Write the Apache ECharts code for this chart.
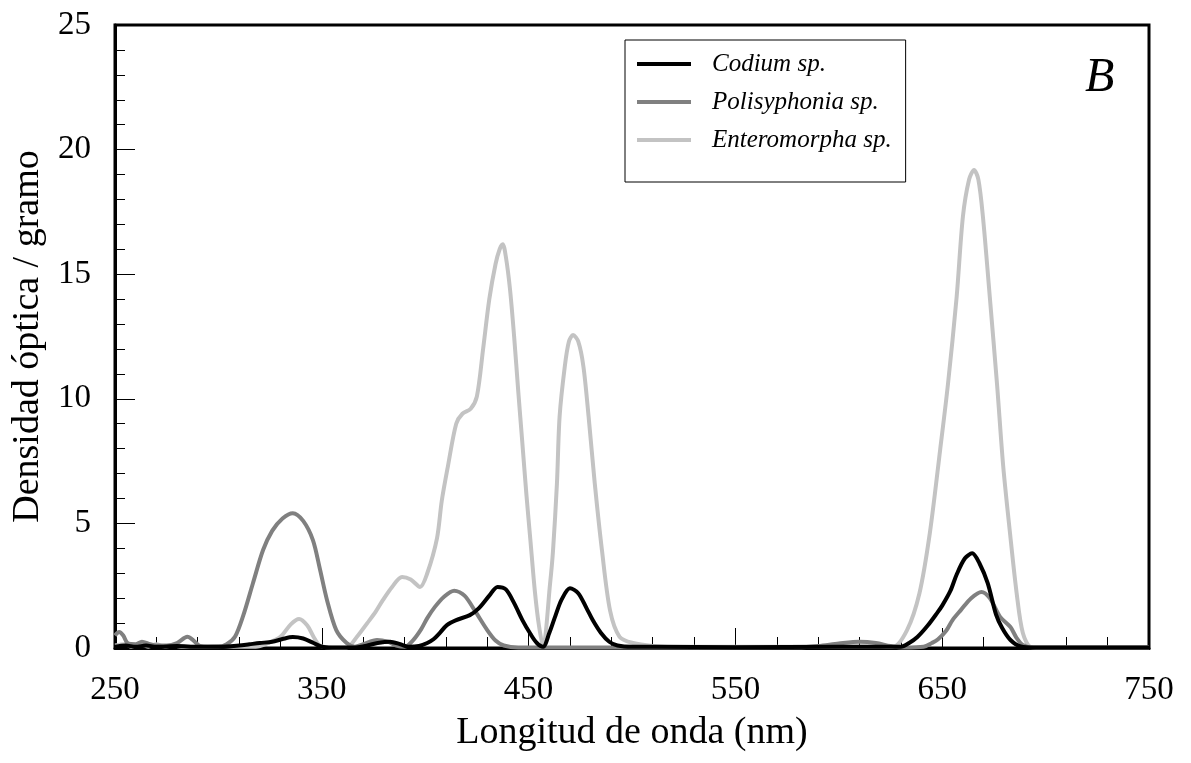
<!DOCTYPE html>
<html>
<head>
<meta charset="utf-8">
<script src="https://cdn.jsdelivr.net/npm/echarts@6/dist/echarts.min.js"></script>
<style>
  html, body { margin: 0; padding: 0; background: #fff; }
  #chart { width: 1191px; height: 763px; }
</style>
</head>
<body>
<div id="chart"></div>
<script>
// Absorption spectra (optical density per gram) of three algae extracts.
const seriesNames = ['Codium sp.', 'Polisyphonia sp.', 'Enteromorpha sp.'];
const xTickLabels = [250, 350, 450, 550, 650, 750];
const yTickLabels = [0, 5, 10, 15, 20, 25];

const codiumNm = [250, 255, 260, 265, 270, 280, 290, 300, 310, 315, 320, 326, 331, 336, 341, 346, 350, 355, 365, 372, 377, 383, 388, 392, 397, 401, 404, 407, 410.5, 415, 421.6, 426, 431, 435, 439, 443, 447, 451, 454, 457, 460, 463, 466, 470, 474, 478, 481, 485, 489, 493, 500, 510, 550, 600, 620, 630, 634, 638, 643, 647.5, 650, 654, 657, 661, 664.5, 668, 672, 676, 679, 683, 688, 695, 750];
const codiumOD = [0.05, 0.1, 0.05, 0.1, 0.05, 0.08, 0.05, 0.05, 0.1, 0.15, 0.2, 0.25, 0.36, 0.44, 0.38, 0.2, 0.05, 0.02, 0.02, 0.1, 0.2, 0.25, 0.15, 0.05, 0.08, 0.2, 0.35, 0.6, 0.92, 1.12, 1.32, 1.6, 2.1, 2.45, 2.35, 1.8, 1.12, 0.55, 0.2, 0.05, 0.6, 1.3, 1.95, 2.4, 2.2, 1.6, 1.12, 0.6, 0.25, 0.1, 0.05, 0.05, 0.03, 0.05, 0.05, 0.05, 0.2, 0.44, 0.9, 1.4, 1.7, 2.3, 2.95, 3.6, 3.8, 3.4, 2.6, 1.35, 0.8, 0.32, 0.06, 0.02, 0.02];

const polisNm = [250, 252, 254, 256, 260, 263, 267, 270, 275, 280, 285, 288, 291, 295, 300, 304, 308, 312, 316.7, 321.6, 326, 331, 336, 341, 345.7, 349, 352.5, 357, 362, 366, 370, 376.7, 382, 386, 390, 394, 398, 401, 404.7, 409, 414, 419, 424, 430, 434, 438, 445, 500, 580, 590, 600, 610, 618, 625, 632, 641, 645, 648, 652, 655, 659, 664, 669, 673, 678, 683, 686, 689, 694, 750];
const polisOD = [0.5, 0.64, 0.5, 0.2, 0.15, 0.25, 0.15, 0.1, 0.1, 0.2, 0.45, 0.3, 0.08, 0.05, 0.05, 0.15, 0.45, 1.3, 2.6, 3.93, 4.7, 5.2, 5.41, 5.1, 4.33, 3.2, 1.93, 0.72, 0.2, 0.05, 0.15, 0.32, 0.25, 0.1, 0.05, 0.3, 0.75, 1.2, 1.65, 2.05, 2.3, 2.1, 1.5, 0.72, 0.3, 0.1, 0.02, 0.02, 0.03, 0.08, 0.18, 0.25, 0.2, 0.08, 0.02, 0.05, 0.2, 0.35, 0.7, 1.12, 1.52, 2.0, 2.25, 2.0, 1.25, 0.84, 0.4, 0.12, 0.02, 0.02];

const enteroNm = [250, 255, 258, 262, 266, 270, 274, 278, 282, 290, 300, 310, 318, 324, 330, 335, 339, 343, 346, 349, 355, 362, 367, 372, 376, 379.6, 384, 388.8, 393, 397.5, 401, 405.7, 408, 411, 415, 418, 422, 425, 428, 431, 434, 436, 437.5, 439, 441, 443, 445, 447, 449, 451, 453, 455, 457, 460.4, 461.8, 463.7, 465, 467.5, 469.5, 471.5, 474, 476.5, 479, 482, 485.5, 489.4, 494, 500.5, 510, 520, 600, 620, 626, 633, 639, 644, 649, 652.8, 657, 660, 663, 665.4, 667.5, 669.7, 673, 676.5, 679.5, 682.8, 686, 689, 693, 700, 750];
const enteroOD = [0.1, 0.15, 0.05, 0.15, 0.05, 0.15, 0.05, 0.1, 0.05, 0.05, 0.08, 0.05, 0.05, 0.2, 0.45, 0.95, 1.16, 0.9, 0.45, 0.1, 0.02, 0.02, 0.45, 1.0, 1.45, 1.93, 2.45, 2.85, 2.75, 2.45, 3.0, 4.4, 5.9, 7.3, 9.0, 9.4, 9.6, 10.1, 12.0, 14.0, 15.4, 16.0, 16.2, 15.7, 14.4, 12.5, 10.3, 8.2, 6.1, 4.2, 2.3, 0.9, 0.05, 2.6, 3.9, 6.6, 9.3, 11.3, 12.3, 12.56, 12.3, 11.3, 9.3, 6.6, 3.9, 1.5, 0.45, 0.2, 0.08, 0.05, 0.05, 0.05, 0.04, 0.72, 2.2, 4.6, 7.95, 10.6, 14.1, 17.3, 18.8, 19.18, 18.8, 17.3, 14.1, 10.6, 7.3, 4.6, 2.2, 0.6, 0.04, 0.02, 0.02];

const zip = (xs, ys) => xs.map((x, i) => [x, ys[i]]);

const serif = '"Liberation Serif", "DejaVu Serif", serif';
const colors = { codium: '#000000', polis: '#808080', entero: '#c3c3c3' };

const chart = echarts.init(document.getElementById('chart'), null, { renderer: 'canvas' });

const lineSeries = (name, data, color, z) => ({
  name,
  type: 'line',
  data,
  smooth: 0.3,
  showSymbol: false,
  symbol: 'none',
  z,
  lineStyle: { color, width: 4 },
  itemStyle: { color }
});

chart.setOption({
  animation: false,
  backgroundColor: '#ffffff',
  grid: { left: 115, right: 42, top: 25, bottom: 115, show: true, borderColor: '#000', borderWidth: 3, backgroundColor: 'transparent' },
  legend: {
    orient: 'vertical',
    left: 625,
    top: 40,
    data: seriesNames,
    borderColor: '#000',
    borderWidth: 1,
    padding: [10, 14, 28, 12],
    itemGap: 10,
    itemWidth: 54,
    itemHeight: 4,
    icon: 'rect',
    textStyle: { fontFamily: serif, fontStyle: 'italic', fontSize: 25, color: '#000', lineHeight: 28, padding: [0, 0, 0, 16] }
  },
  xAxis: {
    type: 'value',
    min: 250,
    max: 750,
    interval: 100,
    name: 'Longitud de onda (nm)',
    nameLocation: 'middle',
    nameGap: 66,
    nameTextStyle: { fontFamily: serif, fontSize: 38, color: '#000' },
    axisLine: { show: true, lineStyle: { color: '#000', width: 3 } },
    axisTick: { show: true, inside: true, length: 20, lineStyle: { color: '#000', width: 1 } },
    minorTick: { show: true, splitNumber: 5, length: 11, lineStyle: { color: '#000', width: 1 } },
    axisLabel: { fontFamily: serif, fontSize: 33, color: '#000', margin: 26, formatter: v => (xTickLabels.includes(v) ? String(v) : '') },
    splitLine: { show: false }
  },
  yAxis: {
    type: 'value',
    min: 0,
    max: 25,
    interval: 5,
    name: 'Densidad óptica / gramo',
    nameLocation: 'middle',
    nameGap: 68,
    nameTextStyle: { fontFamily: serif, fontSize: 38, color: '#000' },
    axisLine: { show: true, lineStyle: { color: '#000', width: 3 } },
    axisTick: { show: true, inside: true, length: 20, lineStyle: { color: '#000', width: 1 } },
    minorTick: { show: true, splitNumber: 5, length: 10, lineStyle: { color: '#000', width: 1 } },
    axisLabel: { fontFamily: serif, fontSize: 33, color: '#000', margin: 24, formatter: v => (yTickLabels.includes(v) ? String(v) : '') },
    splitLine: { show: false }
  },
  graphic: [{
    type: 'text',
    left: 1085,
    top: 54,
    style: { text: 'B', font: 'italic 48px ' + serif, fill: '#000' }
  }],
  series: [
    lineSeries('Enteromorpha sp.', zip(enteroNm, enteroOD), colors.entero, 2),
    lineSeries('Polisyphonia sp.', zip(polisNm, polisOD), colors.polis, 3),
    lineSeries('Codium sp.', zip(codiumNm, codiumOD), colors.codium, 4)
  ]
});
</script>
</body>
</html>
